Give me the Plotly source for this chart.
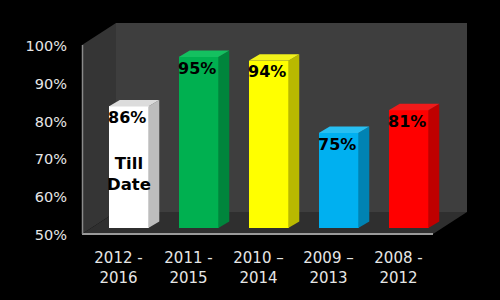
import plotly.graph_objects as go

# ---- data ----
categories = ["2012 -<br>2016", "2011 -<br>2015", "2010 –<br>2014", "2009 –<br>2013", "2008 -<br>2012"]
bar_values = [82, 95, 94, 75, 81]          # bar heights as drawn
label_texts = ["86%", "95%", "94%", "75%", "81%"]
y_ticks = [50, 60, 70, 80, 90, 100]
y_ticktext = ["50%", "60%", "70%", "80%", "90%", "100%"]
inner_note = "Till<br>Date"

# ---- styles ----
front_colors = ["#ffffff", "#00b050", "#ffff00", "#00b0f0", "#ff0000"]
side_colors = ["#bdbdbd", "#00853c", "#b9b900", "#0083b3", "#bf0000"]
top_colors = ["#dcdcdc", "#14c060", "#f2f21a", "#27bff2", "#f01a1a"]

W, H = 500, 300
def fx(px): return px / W
def fy(py): return 1 - py / H

# plot geometry (pixels)
bar_x0_px, bar_x1_px = 93.5, 443.5
bar_ybot_px, bar_ytop_px = 228, 38
lab_shift_px = 10
tick_ybot_px, tick_ytop_px = 235, 46
ymin, ymax = 50, 100
n = len(categories)
xs = list(range(n))
bw = 0.565
px_per_x = (bar_x1_px - bar_x0_px) / n
px_per_y = (bar_ybot_px - bar_ytop_px) / (ymax - ymin)
dx = 11 / px_per_x
dy = 6.5 / px_per_y

fig = go.Figure()
fig.add_trace(go.Bar(x=xs, y=bar_values, width=bw, marker=dict(color=front_colors, line=dict(width=0)),
                     hoverinfo="skip", showlegend=False))
fig.add_trace(go.Scatter(x=[None], y=[None], xaxis="x2", yaxis="y2", showlegend=False, hoverinfo="skip"))

shapes = []
# back wall
shapes.append(dict(type="rect", xref="paper", yref="paper", x0=fx(116), x1=fx(467), y0=fy(212), y1=fy(23),
                   fillcolor="#3e3e3e", line=dict(width=0), layer="below"))
# left wall
shapes.append(dict(type="path", xref="paper", yref="paper",
                   path=f"M{fx(82)},{fy(45)} L{fx(116)},{fy(23)} L{fx(116)},{fy(212)} L{fx(82)},{fy(234)} Z",
                   fillcolor="#353535", line=dict(width=0), layer="below"))
# floor
shapes.append(dict(type="path", xref="paper", yref="paper",
                   path=f"M{fx(82)},{fy(234)} L{fx(433)},{fy(234)} L{fx(467)},{fy(212)} L{fx(116)},{fy(212)} Z",
                   fillcolor="#2f2f2f", line=dict(width=0), layer="below"))
# edges
shapes.append(dict(type="line", xref="paper", yref="paper", x0=fx(82), x1=fx(433), y0=fy(234), y1=fy(234),
                   line=dict(color="#9a9a9a", width=2), layer="below"))
shapes.append(dict(type="line", xref="paper", yref="paper", x0=fx(82.5), x1=fx(82.5), y0=fy(45), y1=fy(234),
                   line=dict(color="#8a8a8a", width=1.5), layer="below"))

# bar sides and tops (from data)
for i, v in enumerate(bar_values):
    x0 = xs[i] - bw / 2
    x1 = xs[i] + bw / 2
    shapes.append(dict(type="path", xref="x", yref="y",
                       path=f"M{x1},{ymin} L{x1+dx},{ymin+dy} L{x1+dx},{v+dy} L{x1},{v} Z",
                       fillcolor=side_colors[i], line=dict(width=0)))
    shapes.append(dict(type="path", xref="x", yref="y",
                       path=f"M{x0},{v} L{x0+dx},{v+dy} L{x1+dx},{v+dy} L{x1},{v} Z",
                       fillcolor=top_colors[i], line=dict(width=0)))

annotations = []
for i, v in enumerate(bar_values):
    annotations.append(dict(x=xs[i], y=v, xref="x", yref="y", text=f"<b>{label_texts[i]}</b>",
                            showarrow=False, yanchor="middle", yshift=-11, xshift=-1.5,
                            font=dict(family="DejaVu Sans", size=16, color="#000000")))
annotations.append(dict(x=xs[0], y=bar_values[0], xref="x", yref="y", text=f"<b>{inner_note}</b>",
                        showarrow=False, yanchor="middle", yshift=-68, xshift=0,
                        font=dict(family="DejaVu Sans", size=16.5, color="#000000")))

tick_font = dict(family="DejaVu Sans", size=14.5, color="#e6e6e6")
fig.update_layout(
    width=W, height=H, margin=dict(l=0, r=0, t=0, b=0, autoexpand=False),
    paper_bgcolor="#000000", plot_bgcolor="rgba(0,0,0,0)",
    shapes=shapes, annotations=annotations, bargap=0,
    xaxis=dict(range=[-0.5, n - 0.5], domain=[fx(bar_x0_px), fx(bar_x1_px)], visible=False,
               fixedrange=True, automargin=False),
    yaxis=dict(range=[ymin, ymax], domain=[fy(bar_ybot_px), fy(bar_ytop_px)], visible=False,
               fixedrange=True, automargin=False),
    xaxis2=dict(range=[-0.5, n - 0.5], domain=[fx(bar_x0_px - lab_shift_px), fx(bar_x1_px - lab_shift_px)],
                anchor="y2", tickvals=xs, ticktext=categories, showgrid=False, zeroline=False,
                showline=False, ticks="", ticklabelstandoff=12, automargin=False,
                tickfont=dict(family="DejaVu Sans", size=15, color="#e6e6e6"), fixedrange=True),
    yaxis2=dict(range=[ymin, ymax], domain=[fy(tick_ybot_px), fy(tick_ytop_px)], anchor="free",
                position=fx(67), tickvals=y_ticks, ticktext=y_ticktext, showgrid=False, automargin=False,
                zeroline=False, showline=False, ticks="", tickfont=tick_font, fixedrange=True),
)
fig.write_html("out.html")
